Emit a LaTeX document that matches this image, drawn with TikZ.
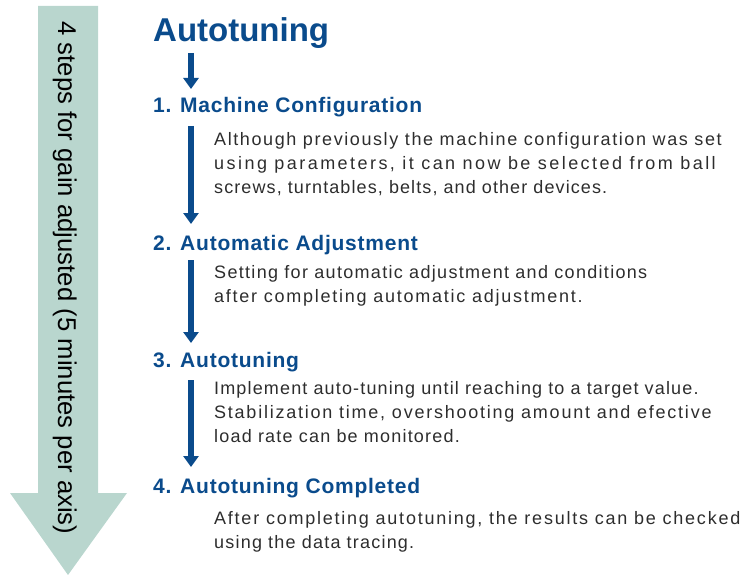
\documentclass[tikz,border=0pt]{standalone}
\usepackage{fontspec}
\setmainfont{Liberation Sans}
\newfontfamily\bodyfont{Liberation Sans}
\newfontfamily\headfont[LetterSpace=3.6]{Liberation Sans}
\usepackage{tikz}
\usetikzlibrary{calc, arrows.meta}

\definecolor{stepblue}{RGB}{10,75,140}
\definecolor{bodygray}{RGB}{45,45,45}
\definecolor{bigarrow}{RGB}{185,214,206}

% tracking of one line of body text
\newcommand{\trk}[2]{{\addfontfeature{LetterSpace=#1}#2}}

\tikzset{
	title/.style={anchor=base west, inner sep=0pt, text=stepblue, font=\fontsize{33}{36}\selectfont\bfseries},
	heading/.style={anchor=base west, inner sep=0pt, text=stepblue, font=\headfont\fontsize{21}{24}\selectfont\bfseries},
	body/.style={anchor=north west, inner sep=0pt, align=left, text=bodygray, font=\bodyfont\fontsize{18}{24}\selectfont},
	flow/.style={draw=stepblue, line width=5.7pt, -{Triangle[width=15pt,length=11pt]}}
}

\begin{document}
\begin{tikzpicture}[x=1pt, y=-1pt]
					\useasboundingbox (0,0) rectangle (742,575);
					\def\ax{191};
					\def\bx{214};
					\def\asc{13.1};
					
					% big arrow on the left
					\fill[bigarrow] (38,6) -- (98,6) -- (98,493) -- (127,493) -- (68,575) -- (10,493) -- (38,493) -- cycle;
					\node (side) [rotate=-90, anchor=base, inner sep=0pt, font=\fontsize{25.7}{30}\selectfont] at (58,278) {4 steps for gain adjusted (5 minutes per axis)};
					
					\node (top) [title] at (153,42) {Autotuning};
					
					\begin{scope}
						\node (h1) [heading] at (153,113) {1. Machine Configuration};
						\node (b1) [body] at (\bx,145-\asc) {\trk{8.85}{Although previously the machine configuration was set}\\\trk{13.6}{using parameters, it can now be selected from ball}\\\trk{6.1}{screws, turntables, belts, and other devices.}};
						
						\node (h2) [heading] at (153,250) {2. Automatic Adjustment};
						\node (b2) [body] at (\bx,278-\asc) {\trk{7.3}{Setting for automatic adjustment and conditions}\\\trk{9.7}{after completing automatic adjustment.}};
						
						\node (h3) [heading] at (153,367) {3. Autotuning};
						\node (b3) [body] at (\bx,394-\asc) {\trk{6.4}{Implement auto-tuning until reaching to a target value.}\\\trk{9.8}{Stabilization time, overshooting amount and efective}\\\trk{6.7}{load rate can be monitored.}};
						
						\node (h4) [heading] at (153,493) {4. Autotuning Completed};
						\node (b4) [body] at (\bx,524-\asc) {\trk{9.8}{After completing autotuning, the results can be checked}\\\trk{6.7}{using the data tracing.}};
					\end{scope}
					
					\coordinate (s0) at (\ax,53);
					\coordinate (e0) at (\ax,89);
					\coordinate (s1) at (\ax,126);
					\coordinate (e1) at (\ax,224);
					\coordinate (s2) at (\ax,260);
					\coordinate (e2) at (\ax,343);
					\coordinate (s3) at (\ax,380);
					\coordinate (e3) at (\ax,467);
					
					\begin{scope}[flow]
						\draw (s0) -- (e0);
						\draw (s1) -- (e1);
						\draw (s2) -- (e2);
						\draw (s3) -- (e3);
					\end{scope}
				\end{tikzpicture}
\end{document}
